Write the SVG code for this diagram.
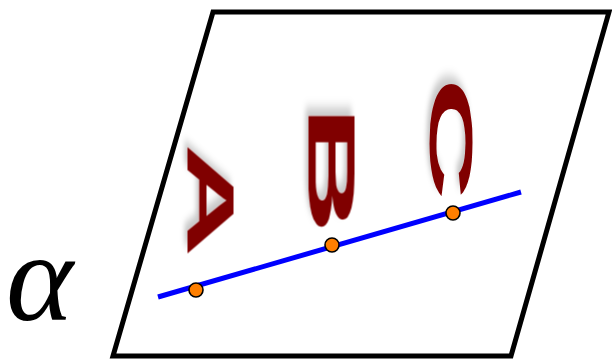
<svg xmlns="http://www.w3.org/2000/svg" width="612" height="361" viewBox="0 0 612 361">
  <defs>
    <filter id="shadow" x="-50%" y="-50%" width="200%" height="200%">
      <feDropShadow dx="-3" dy="3" stdDeviation="2" flood-color="#000" flood-opacity="0.22"/>
    </filter>
    <style>
      .plane { fill: #fff; stroke: #000; stroke-width: 5; stroke-linejoin: miter; }
      .line { stroke: #0000ff; stroke-width: 5; fill: none; }
      .pt { fill: #ff7f00; stroke: #000; stroke-width: 1.6; }
      .lbl { font-family: "Liberation Sans", Arial, sans-serif; font-weight: bold; font-size: 66px; fill: #800000; text-anchor: middle; filter: url(#shadow); }
      .alpha { font-family: "Liberation Serif", "Times New Roman", serif; font-style: italic; font-size: 128px; fill: #000; }
    </style>
  </defs>
  <rect width="612" height="361" fill="#fff"/>
  <g id="plane">
    <polygon class="plane" points="213,12 609,12 511,356 113,356"/>
  </g>
  <g id="alpha-label">
    <text class="alpha" x="6" y="320">α</text>
  </g>
  <g id="connectors">
    <line class="line" x1="158" y1="297" x2="521" y2="192"/>
  </g>
  <g id="label-A">
    <text class="lbl" transform="translate(187.5,200.5) rotate(90) scale(2.4,1)">A</text>
  </g>
  <g id="label-B">
    <text class="lbl" transform="translate(308.5,169.5) rotate(90) scale(2.75,1)">B</text>
  </g>
  <g id="label-C">
    <text class="lbl" transform="translate(430,139) rotate(90) scale(2.6,0.94)">C</text>
  </g>
  <g id="point-A">
    <circle class="pt" cx="196" cy="290" r="7"/>
  </g>
  <g id="point-B">
    <circle class="pt" cx="332" cy="245" r="7"/>
  </g>
  <g id="point-C">
    <circle class="pt" cx="453" cy="213" r="7"/>
  </g>
</svg>
